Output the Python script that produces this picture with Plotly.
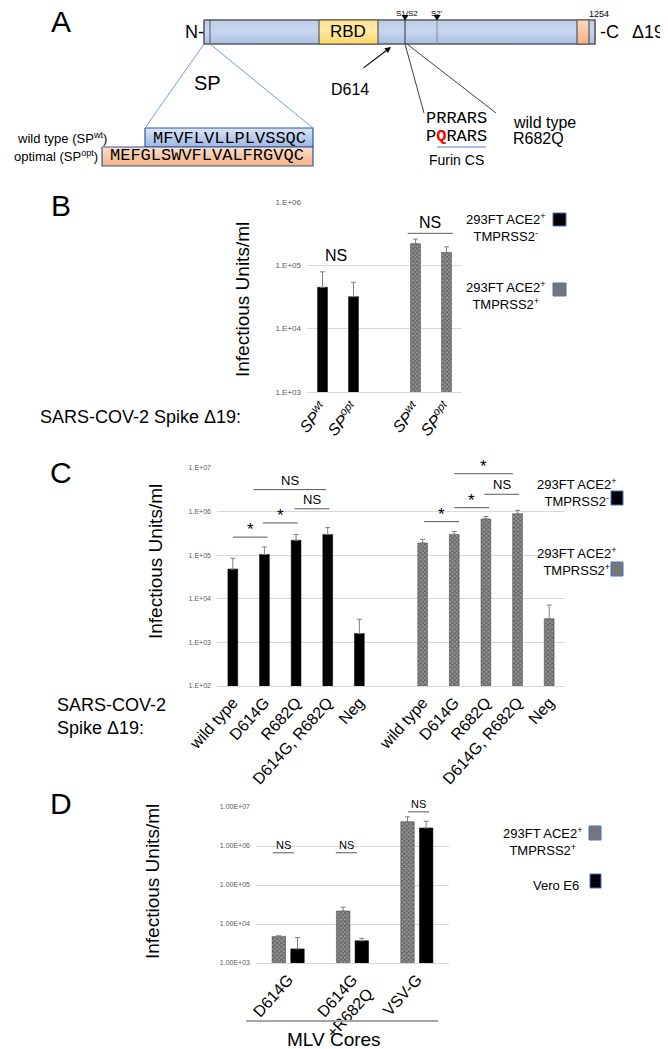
import numpy as np
import plotly.graph_objects as go

# reference frame is 668x1049; the page body adds an 8px margin, so the
# figure itself is drawn 8px smaller and every pixel position is shifted.
W, H = 668, 1049
OFF = 8
FW, FH = W - OFF, H - OFF

# ---- panel B: SP variants ----
b_pos = [0, 1, 3, 4]
b_labels = ["<i>SP<sup>wt</sup></i>", "<i>SP<sup>opt</sup></i>",
            "<i>SP<sup>wt</sup></i>", "<i>SP<sup>opt</sup></i>"]
b_black = [4.5e4, 3.2e4]
b_black_top = [7.9e4, 5.4e4]
b_gray = [2.2e5, 1.6e5]
b_gray_top = [2.6e5, 1.96e5]
b_brackets = [(2.75, 4.2, 3.2e5, "NS")]

# ---- panel C: D614G / R682Q ----
c_labels = ["wild type", "D614G", "R682Q", "D614G, R682Q", "Neg"]
c_black = [4.8e4, 1.04e5, 2.2e5, 3.0e5, 1.6e3]
c_black_top = [8.5e4, 1.55e5, 3.0e5, 4.3e5, 3.4e3]
c_gray = [1.9e5, 3.0e5, 6.8e5, 8.9e5, 3.5e3]
c_gray_top = [2.3e5, 3.5e5, 7.7e5, 1.07e6, 7.2e3]
c_brackets = [(0.0, 1.1, 2.6e5, "*"), (0.95, 2.05, 5.5e5, "*"),
              (0.65, 2.95, 3.2e6, "NS"), (1.95, 3.05, 1.16e6, "NS"),
              (6.05, 7.15, 5.9e5, "*"), (7.0, 8.1, 1.23e6, "*"),
              (7.95, 9.05, 2.5e6, "NS"), (7.0, 8.85, 7.4e6, "*")]

# ---- panel D: MLV cores ----
d_labels = ["D614G", "D614G<br>+R682Q", "VSV-G"]
d_gray = [4.8e3, 2.15e4, 4.2e6]
d_gray_top = [5.0e3, 2.7e4, 5.6e6]
d_black = [2.3e3, 3.7e3, 2.9e6]
d_black_top = [4.5e3, 4.3e3, 4.3e6]
d_brackets = [(-0.24, 0.09, 6.7e5, "NS"), (0.74, 1.07, 6.7e5, "NS"),
              (1.86, 2.19, 7.5e6, "NS")]

FONT = "Liberation Sans"
MONO = "Liberation Mono"


def px(x, y):
    return (x - OFF) / FW, 1 - (y - OFF) / FH


def ydom(top, bottom):
    return [1 - (bottom - OFF) / FH, 1 - (top - OFF) / FH]


fig = go.Figure()

gray_marker = dict(
    color="#7a7a7a", line=dict(color="#404040", width=0.5),
    pattern=dict(shape="x", fgcolor="#1e1e1e", bgcolor="#9a9a9a",
                 size=3, solidity=0.5))
black_marker = dict(color="#000000", line=dict(color="#000000", width=0.5))


def err(vals, tops):
    return dict(type="data", symmetric=False,
                array=[t - v for v, t in zip(vals, tops)],
                arrayminus=[0] * len(vals),
                color="#808080", thickness=1, width=2.5)


# B bars
fig.add_trace(go.Bar(x=b_pos[:2], y=b_black, width=0.32, marker=black_marker,
                     error_y=err(b_black, b_black_top), xaxis="x", yaxis="y"))
fig.add_trace(go.Bar(x=b_pos[2:], y=b_gray, width=0.32, marker=gray_marker,
                     error_y=err(b_gray, b_gray_top), xaxis="x", yaxis="y"))

# C bars
fig.add_trace(go.Bar(x=list(range(5)), y=c_black, width=0.31, marker=black_marker,
                     error_y=err(c_black, c_black_top), xaxis="x2", yaxis="y2"))
fig.add_trace(go.Bar(x=list(range(6, 11)), y=c_gray, width=0.31, marker=gray_marker,
                     error_y=err(c_gray, c_gray_top), xaxis="x2", yaxis="y2"))

# D bars
d_idx = np.arange(len(d_labels))
fig.add_trace(go.Bar(x=d_idx - 0.145, y=d_gray, width=0.21, marker=gray_marker,
                     error_y=err(d_gray, d_gray_top), xaxis="x3", yaxis="y3"))
fig.add_trace(go.Bar(x=d_idx + 0.145, y=d_black, width=0.21, marker=black_marker,
                     error_y=err(d_black, d_black_top), xaxis="x3", yaxis="y3"))


# ---- panel A schematic (pixel-space overlay axis) ----
def box(x0, x1, y0, y1, colors, line_color="#595959", width=1.2):
    fig.add_trace(go.Scatter(
        x=[x0, x1, x1, x0, x0], y=[y0, y0, y1, y1, y0],
        mode="lines", fill="toself",
        fillgradient=dict(type="vertical", colorscale=colors),
        line=dict(color=line_color, width=width),
        xaxis="x4", yaxis="y4", hoverinfo="skip"))


box(204, 595, 20, 44, [[0, "#a9bfe4"], [0.55, "#c9d7ef"], [1, "#bccdea"]], width=1.6)
box(319, 378, 20, 44, [[0, "#ffd966"], [0.6, "#ffe9a8"], [1, "#ffe08a"]])
box(577, 589, 20, 44, [[0, "#f4b183"], [1, "#fbd9c2"]])
box(145, 313, 128, 147, [[0, "#9db7e3"], [1, "#dbe5f5"]], line_color="#2f5597")
box(102, 313, 147, 166, [[0, "#f4b183"], [1, "#fbe0cc"]], line_color="#2f5597")

shapes = []


def seg(x0, y0, x1, y1, color, width=1, ref="A"):
    if ref == "A":
        shapes.append(dict(type="line", xref="x4", yref="y4", x0=x0, y0=y0,
                           x1=x1, y1=y1, line=dict(color=color, width=width)))
    else:
        a, b = px(x0, y0)
        c, d = px(x1, y1)
        shapes.append(dict(type="line", xref="paper", yref="paper", x0=a, y0=b,
                           x1=c, y1=d, line=dict(color=color, width=width)))


seg(210, 20, 210, 44, "#595959")
seg(405, 20, 405, 44, "#333333")
seg(437, 20, 437, 44, "#8c8c8c")
seg(204, 44, 145, 128, "#6f9ce0")
seg(210, 44, 313, 128, "#6f9ce0")
seg(405, 44, 424, 113, "#404040")
seg(407, 44, 496, 113, "#404040")
seg(437, 147, 486, 147, "#8eaadb", 1.5)

# cleavage-site markers above the bar
for cx in (405, 437):
    shapes.append(dict(type="path", xref="x4", yref="y4",
                       path=f"M {cx - 3.5},15 L {cx + 3.5},15 L {cx},20.5 Z",
                       fillcolor="#000000", line=dict(width=0)))

annotations = []


def note(x, y, text, size, anchor="center", color="#000000", family=FONT, angle=0):
    a, b = px(x, y)
    annotations.append(dict(x=a, y=b, xref="paper", yref="paper", text=text,
                            showarrow=False, xanchor=anchor, yanchor="middle",
                            textangle=angle,
                            font=dict(family=family, size=size, color=color)))


for letter, y in zip("ABCD", [22, 205, 472, 803]):
    note(61, y, letter, 30)

note(194, 32, "N-", 18)
note(609, 32, "-C", 18)
note(648, 32, "Δ19", 18)
note(348, 32, "RBD", 17)
note(407, 13.5, "S1/S2", 8)
note(437, 13.5, "S2'", 8)
note(599, 14.5, "1254", 9)
note(207, 83, "SP", 20)
note(350, 90, "D614", 16)
note(109, 138, "wild type (SP<sup>wt</sup>)", 13, anchor="right")
note(100, 156, "optimal (SP<sup>opt</sup>)", 13, anchor="right")
note(229, 138, "MFVFLVLLPLVSSQC", 17, family=MONO)
note(207.5, 156, "MEFGLSWVFLVALFRGVQC", 17, family=MONO)
note(456, 119, "PRRARS", 17, family=MONO)
note(456, 137, "P<b><span style='color:#ff0000'>Q</span></b>RARS", 17, family=MONO)
note(456, 160, "Furin CS", 14)
note(511, 122, "wild type", 16, anchor="left")
note(511, 138, "R682Q", 16, anchor="left")
annotations.append(dict(x=391, y=47, ax=362, ay=69, xref="x4", yref="y4",
                        axref="x4", ayref="y4", text="", showarrow=True,
                        arrowhead=2, arrowsize=1, arrowwidth=1.2,
                        arrowcolor="#000000"))

# ---- y titles, captions ----
note(243, 300, "Infectious Units/ml", 19, angle=-90)
note(155, 562, "Infectious Units/ml", 19, angle=-90)
note(152, 882, "Infectious Units/ml", 19, angle=-90)
note(38, 417, "SARS-COV-2 Spike Δ19:", 18, anchor="left")
note(55, 705, "SARS-COV-2", 18, anchor="left")
note(55, 728, "Spike Δ19:", 18, anchor="left")
note(334, 1039, "MLV Cores", 19)
seg(246, 1021, 438, 1021, "#a6a6a6", 2, ref="paper")


# ---- legends ----
def legend_box(x0, y0, x1, y1, fill):
    a, b = px(x0, y0)
    c, d = px(x1, y1)
    shapes.append(dict(type="rect", xref="paper", yref="paper", x0=a, y0=b,
                       x1=c, y1=d, fillcolor=fill,
                       line=dict(color="#4472c4", width=1)))


GRAY_BOX = "#767676"
note(464, 227, "293FT ACE2<sup>+</sup><br>TMPRSS2<sup>-</sup>", 13, anchor="left")
legend_box(553, 213, 566, 226, "#000000")
note(464, 295, "293FT ACE2<sup>+</sup><br>TMPRSS2<sup>+</sup>", 13, anchor="left")
legend_box(553, 283, 566, 296, GRAY_BOX)
note(535, 492, "293FT ACE2<sup>+</sup><br>TMPRSS2<sup>-</sup>", 13, anchor="left")
legend_box(611, 491, 623, 505, "#000000")
note(535, 561, "293FT ACE2<sup>+</sup><br>TMPRSS2<sup>+</sup>", 13, anchor="left")
legend_box(611, 562, 623, 576, GRAY_BOX)
note(501, 841, "293FT ACE2<sup>+</sup><br>TMPRSS2<sup>+</sup>", 13, anchor="left")
legend_box(589, 826, 601, 840, GRAY_BOX)
note(581, 885, "Vero E6", 13, anchor="right")
legend_box(590, 874, 601, 888, "#000000")


# ---- significance brackets (shapes take raw values on log axes,
#      annotations take log10 values) ----
def brackets(items, xr, yr, size):
    for x0, x1, yv, label in items:
        shapes.append(dict(type="line", xref=xr, yref=yr, x0=x0, x1=x1,
                           y0=yv, y1=yv, line=dict(color="#595959", width=1)))
        annotations.append(dict(x=(x0 + x1) / 2, y=np.log10(yv), xref=xr, yref=yr,
                                text=label, showarrow=False, yanchor="bottom",
                                yshift=0 if label == "NS" else -4,
                                font=dict(family=FONT,
                                          size=size if label == "NS" else size + 4)))


brackets(b_brackets, "x", "y", 16)
brackets(c_brackets, "x2", "y2", 13)
brackets(d_brackets, "x3", "y3", 11)
annotations.append(dict(x=0.45, y=np.log10(1.45e5), xref="x", yref="y", text="NS",
                        showarrow=False, font=dict(family=FONT, size=16)))


def yax(top, bottom, rng, vals, texts, anchor, tsize):
    return dict(type="log", domain=ydom(top, bottom), range=rng, tickvals=vals,
                ticktext=texts, showgrid=True, gridcolor="#d9d9d9", gridwidth=1,
                ticks="", showline=False, zeroline=False,
                tickfont=dict(family=FONT, size=tsize, color="#595959"),
                ticklabelstandoff=5, anchor=anchor, fixedrange=True,
                automargin=False)


def xax(left, right, rng, vals, texts, anchor, size, angle=-48):
    return dict(domain=[(left - OFF) / FW, (right - OFF) / FW], range=rng,
                tickvals=vals, ticktext=texts, tickangle=angle, showgrid=False,
                zeroline=False, showline=True, linecolor="#d9d9d9", linewidth=1,
                ticks="", anchor=anchor, fixedrange=True, automargin=False,
                tickfont=dict(family=FONT, size=size, color="#000000"))


fig.update_layout(
    width=FW, height=FH,
    margin=dict(l=0, r=0, t=0, b=0, pad=0, autoexpand=False),
    paper_bgcolor="white", plot_bgcolor="rgba(0,0,0,0)",
    showlegend=False, barmode="overlay",
    font=dict(family=FONT, color="#000000"),
    xaxis=xax(307, 462, [-0.5, 4.5], b_pos, b_labels, "y", 16),
    yaxis=yax(202, 392, [3, 6], [1e3, 1e4, 1e5, 1e6],
              ["1.E+03", "1.E+04", "1.E+05", "1.E+06"], "x", 8),
    xaxis2=xax(217, 565, [-0.5, 10.5], list(range(5)) + list(range(6, 11)),
               c_labels * 2, "y2", 16),
    yaxis2=yax(468, 686, [2, 7], [1e2, 1e3, 1e4, 1e5, 1e6, 1e7],
               ["1.E+02", "1.E+03", "1.E+04", "1.E+05", "1.E+06", "1.E+07"], "x2", 7),
    xaxis3=xax(256, 449, [-0.5, 2.5], list(d_idx), d_labels, "y3", 16),
    yaxis3=yax(807, 963, [3, 7], [1e3, 1e4, 1e5, 1e6, 1e7],
               ["1.00E+03", "1.00E+04", "1.00E+05", "1.00E+06", "1.00E+07"], "x3", 7),
    xaxis4=dict(domain=[0, 1], range=[OFF, W], visible=False, fixedrange=True,
                anchor="y4", automargin=False),
    yaxis4=dict(domain=[1 - (180 - OFF) / FH, 1], range=[180, OFF], visible=False,
                fixedrange=True, anchor="x4", automargin=False),
    shapes=shapes,
    annotations=annotations,
)

fig.write_html("out.html")
